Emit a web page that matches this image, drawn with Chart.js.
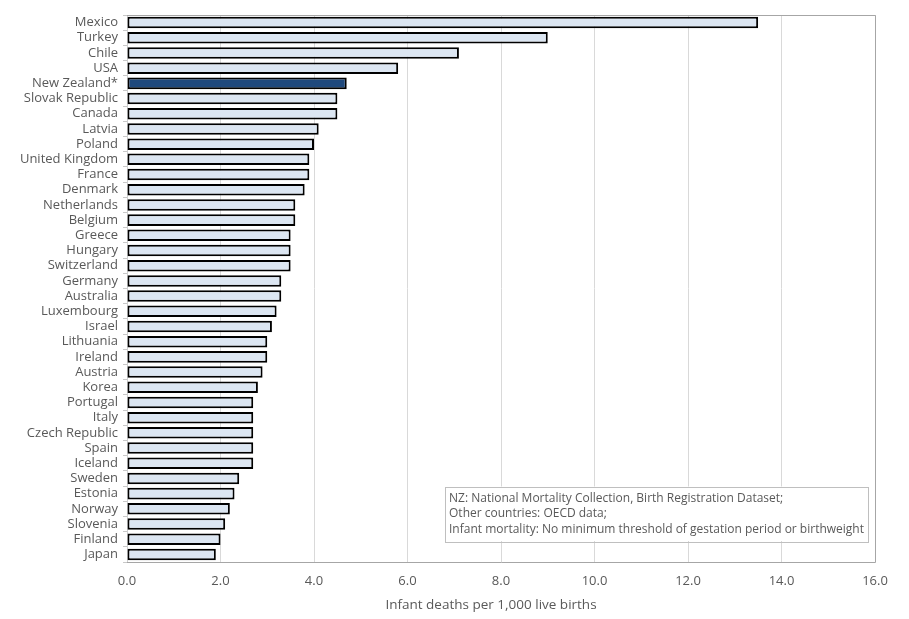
<!DOCTYPE html>
<html>
<head>
<meta charset="utf-8">
<script src="https://cdn.jsdelivr.net/npm/chart.js@4.4.1/dist/chart.umd.min.js"></script>
<style>
  html, body { margin: 0; padding: 0; background: #fff; }
  #wrap { width: 909px; height: 619px; }
</style>
</head>
<body>
<div id="wrap"><canvas id="myChart" width="909" height="619"></canvas></div>
<script>
const countries = ['Mexico', 'Turkey', 'Chile', 'USA', 'New Zealand*', 'Slovak Republic', 'Canada',
  'Latvia', 'Poland', 'United Kingdom', 'France', 'Denmark', 'Netherlands', 'Belgium', 'Greece',
  'Hungary', 'Switzerland', 'Germany', 'Australia', 'Luxembourg', 'Israel', 'Lithuania', 'Ireland',
  'Austria', 'Korea', 'Portugal', 'Italy', 'Czech Republic', 'Spain', 'Iceland', 'Sweden', 'Estonia',
  'Norway', 'Slovenia', 'Finland', 'Japan'];
const deaths = [13.5, 9.0, 7.1, 5.8, 4.7, 4.5, 4.5,
  4.1, 4.0, 3.9, 3.9, 3.8, 3.6, 3.6, 3.5,
  3.5, 3.5, 3.3, 3.3, 3.2, 3.1, 3.0, 3.0,
  2.9, 2.8, 2.7, 2.7, 2.7, 2.7, 2.7, 2.4, 2.3,
  2.2, 2.1, 2.0, 1.9];
const highlight = 'New Zealand*';
const xTitle = 'Infant deaths per 1,000 live births';
const noteLines = [
  'NZ: National Mortality Collection, Birth Registration Dataset;',
  'Other countries: OECD data;',
  'Infant mortality: No minimum threshold of gestation period or birthweight'
];

const textColor = '#595959';
const fontFamily = '"Open Sans", "Noto Sans", sans-serif';

// frame around the plot, axis title and the source note box
const framePlugin = {
  id: 'frame',
  afterDraw(chart) {
    const { ctx, chartArea: a } = chart;
    ctx.save();
    ctx.lineWidth = 1;
    ctx.strokeStyle = '#a6a6a6';
    ctx.beginPath();
    ctx.moveTo(a.left, a.top + 0.5);
    ctx.lineTo(a.right + 0.5, a.top + 0.5);
    ctx.lineTo(a.right + 0.5, a.bottom + 0.5);
    ctx.lineTo(a.left, a.bottom + 0.5);
    ctx.stroke();

    // x axis title (sits a bit left of the plot centre in the original)
    ctx.fillStyle = textColor;
    ctx.font = '13.5px ' + fontFamily;
    ctx.textAlign = 'center';
    ctx.textBaseline = 'middle';
    ctx.fillText(xTitle, (a.left + a.right) / 2 - 10, a.bottom + 43);

    // note box
    ctx.textAlign = 'left';
    ctx.font = '12px ' + fontFamily;
    let w = 0;
    noteLines.forEach(l => { w = Math.max(w, ctx.measureText(l).width); });
    const lh = 15.5;
    const bw = w + 8, bh = noteLines.length * lh + 8;
    const bx = a.right - 7 - bw, by = a.bottom - 21 - bh;
    ctx.fillStyle = '#fff';
    ctx.fillRect(bx, by, bw, bh);
    ctx.strokeStyle = '#bfbfbf';
    ctx.strokeRect(Math.round(bx) + 0.5, Math.round(by) + 0.5, Math.round(bw), Math.round(bh));
    ctx.fillStyle = textColor;
    noteLines.forEach((l, i) => ctx.fillText(l, bx + 4, by + 4 + lh * (i + 0.5)));
    ctx.restore();
  }
};

let ctx = document.getElementById('myChart').getContext('2d');
let chart = new Chart(ctx, {
  type: 'bar',
  data: {
    labels: countries,
    datasets: [{
      data: deaths,
      backgroundColor: countries.map(c => c === highlight ? '#1f497d' : '#dce6f2'),
      borderColor: '#000',
      borderWidth: 2,
      borderSkipped: false,
      barPercentage: 0.76,
      categoryPercentage: 1.0
    }]
  },
  options: {
    indexAxis: 'y',
    responsive: false,
    animation: false,
    layout: { padding: { top: 15, right: 34, left: 0, bottom: 0 } },
    plugins: {
      legend: { display: false },
      tooltip: { enabled: false }
    },
    scales: {
      x: {
        min: 0,
        max: 16,
        ticks: {
          stepSize: 2,
          color: textColor,
          font: { family: fontFamily, size: 13 },
          padding: 11,
          callback: v => v.toFixed(1)
        },
        grid: { color: '#d9d9d9', drawTicks: false },
        border: { display: false },
        afterFit(scale) { scale.height = 57; }
      },
      y: {
        ticks: {
          color: textColor,
          font: { family: fontFamily, size: 13 },
          padding: 5,
          autoSkip: false
        },
        grid: { display: true, drawOnChartArea: false, tickLength: 4, color: '#c8c8c8', offset: true },
        border: { display: true, color: '#d0d0d0' },
        afterFit(scale) { scale.width = 127; }
      }
    }
  },
  plugins: [framePlugin]
});
</script>
</body>
</html>
